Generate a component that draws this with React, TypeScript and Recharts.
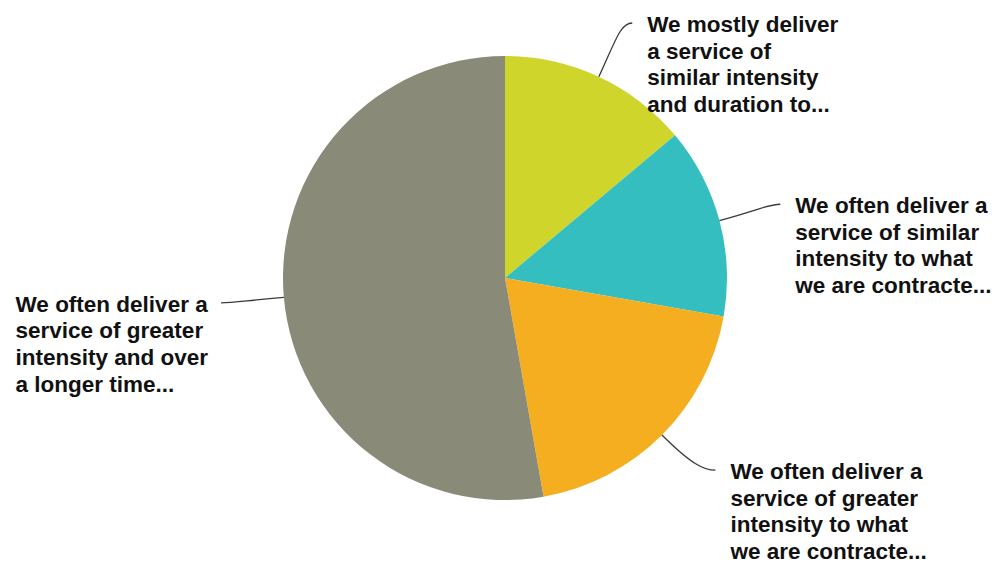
import { PieChart, Pie, Cell } from "recharts";

const categories = [
	"We mostly deliver a service of similar intensity and duration to...",
	"We often deliver a service of similar intensity to what we are contracte...",
	"We often deliver a service of greater intensity to what we are contracte...",
	"We often deliver a service of greater intensity and over a longer time...",
];

const counts = [5, 5, 7, 19];

const labelLines = [
	["We mostly deliver", "a service of", "similar intensity", "and duration to..."],
	["We often deliver a", "service of similar", "intensity to what", "we are contracte..."],
	["We often deliver a", "service of greater", "intensity to what", "we are contracte..."],
	["We often deliver a", "service of greater", "intensity and over", "a longer time..."],
];

const colors = ["#CFD52B", "#34BEC0", "#F5AE1F", "#8A8A79"];

const data = categories.map((name, i) => ({ name, value: counts[i] }));

const W = 1000;
const H = 563;
const FONT_SIZE = 22.5;
const LINE_H = 26.6;
const FONT = `bold ${FONT_SIZE}px "Liberation Sans", Arial, sans-serif`;

let ctx: CanvasRenderingContext2D | null = null;
function textWidth(s: string) {
	if (!ctx) ctx = document.createElement("canvas").getContext("2d");
	if (!ctx) return s.length * 11;
	ctx.font = FONT;
	return ctx.measureText(s).width;
}

const RAD = Math.PI / 180;

function renderLabel(props: any) {
	const { cx, cy, midAngle, outerRadius, index } = props;
	const at = (r: number) => ({
		x: cx + r * Math.cos(-midAngle * RAD),
		y: cy + r * Math.sin(-midAngle * RAD),
	});
	const lines = labelLines[index];
	const R2 = outerRadius + 63;
	const s = at(outerRadius);
	const c1 = at(outerRadius + 40);
	const e = at(R2);
	const right = e.x >= cx;
	const dir = right ? 1 : -1;
	// keep the text block inside the chart, sliding the end along the label circle
	const minY = 23;
	const maxY = H - 11 - (lines.length - 1) * LINE_H - 2;
	if (e.y < minY || e.y > maxY) {
		e.y = Math.min(maxY, Math.max(minY, e.y));
		const dy = e.y - cy;
		e.x = cx + dir * Math.sqrt(Math.max(0, R2 * R2 - dy * dy));
	}
	const c2 = { x: e.x - dir * 12, y: e.y };
	const blockW = Math.max(...lines.map(textWidth));
	const tx = right ? e.x + 15 : e.x - 13 - blockW;
	const ty = e.y + 9;
	return (
		<g key={`lbl-${index}`}>
			<path
				d={`M${s.x},${s.y} C${c1.x},${c1.y} ${c2.x},${c2.y} ${e.x},${e.y}`}
				stroke="#3a3a3a"
				strokeWidth={1.3}
				fill="none"
			/>
			<text x={tx} y={ty} fill="#111" style={{ font: FONT }} textAnchor="start">
				{lines.map((l, i) => (
					<tspan key={i} x={tx} y={ty + i * LINE_H}>
						{l}
					</tspan>
				))}
			</text>
		</g>
	);
}

export default function App() {
	return (
		<div style={{ position: "absolute", left: 0, top: 0, width: W, height: H, background: "#fff" }}>
			<PieChart width={W} height={H} margin={{ top: 0, right: 0, bottom: 0, left: 0 }}>
				<Pie
					data={data}
					dataKey="value"
					nameKey="name"
					cx={505}
					cy={278}
					outerRadius={222}
					startAngle={90}
					endAngle={-270}
					stroke="none"
					label={renderLabel}
					labelLine={false}
					isAnimationActive={false}
				>
					{data.map((d, i) => (
						<Cell key={d.name} fill={colors[i]} />
					))}
				</Pie>
			</PieChart>
		</div>
	);
}
